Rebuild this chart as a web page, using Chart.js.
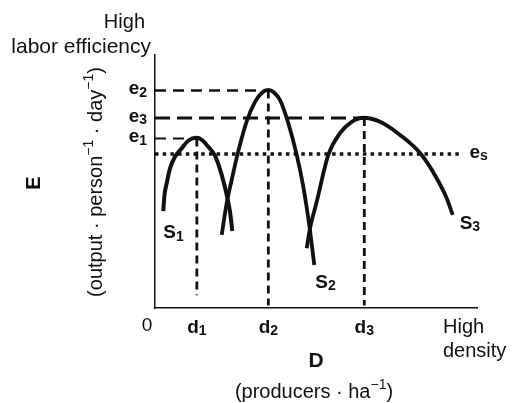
<!DOCTYPE html>
<html>
<head>
<meta charset="utf-8">
<script src="https://cdn.jsdelivr.net/npm/chart.js@4.4.0/dist/chart.umd.min.js"></script>
<style>
  html, body { margin: 0; padding: 0; background: #fff; }
  #chart { display: block; }
</style>
</head>
<body>
<canvas id="chart" width="512" height="403"></canvas>
<script>
// tick labels and where they sit on each axis
const densityTicks = ['1', '2', '3'];
const densityValues = [13, 35.2, 65];
const efficiencyTicks = ['1', '2', '3'];
const efficiencyValues = [67, 86, 75.1];
const subsistenceLevel = 60.9;
const subsistenceEnd = 95.5;

// curves (density, efficiency)
const s1X = [2.58, 2.89, 3.63, 4.66, 6.21, 8.29, 10.5, 12.9, 14.5, 16.55, 18.63, 20.71, 22.27, 23.29, 24.01];
const s1Y = [38.3, 44.0, 49.3, 55.2, 59.8, 63.1, 66.3, 67.3, 66.5, 63.7, 60.2, 52.6, 44.7, 38.1, 30.4];
const s2X = [20.71, 22.27, 23.82, 25.87, 28.48, 31.06, 33.23, 35.19, 36.96, 38.82, 41.4, 44.01, 46.06, 47.83, 49.47];
const s2Y = [28.9, 41.5, 50.6, 62.0, 73.8, 81.5, 85.1, 86.2, 85.2, 82.2, 73.0, 60.5, 47.9, 33.5, 17.0];
const s3X = [47.11, 48.14, 50.22, 53.82, 57.45, 61.09, 64.69, 69.88, 76.09, 82.83, 87.48, 90.59, 92.45];
const s3Y = [23.6, 31.5, 42.0, 60.5, 69.1, 73.6, 75.2, 73.6, 68.4, 60.5, 51.3, 43.4, 36.8];
const curveNames = ['1', '2', '3'];

const FONT = '"Liberation Sans", Arial, sans-serif';

function toPoints(xs, ys) {
	return xs.map((x, i) => ({ x: x, y: ys[i] }));
}

function refLine(points, width, dash) {
	return {
		data: points,
		showLine: true,
		borderColor: '#111',
		borderWidth: width,
		borderDash: dash,
		borderCapStyle: 'butt',
		pointRadius: 0,
		tension: 0
	};
}

function curve(points, color, width) {
	return {
		data: points,
		showLine: true,
		borderColor: color,
		borderWidth: width,
		pointRadius: 0,
		cubicInterpolationMode: 'monotone',
		borderCapStyle: 'butt'
	};
}

// e1, e2, e3 horizontal guides and d1, d2, d3 drops
const hStyles = [[2, [11, 7]], [2.5, [11, 7]], [3.2, [15, 7]]];
const dropEnds = [5, 1, 1];
const datasets = [];
densityValues.forEach((d, i) => {
	const e = efficiencyValues[i];
	datasets.push(refLine([{ x: 0, y: e }, { x: d, y: e }], hStyles[i][0], hStyles[i][1]));
	datasets.push(refLine([{ x: d, y: e }, { x: d, y: dropEnds[i] }], 2.8, [8, 5]));
});
datasets.push(refLine([{ x: 0, y: subsistenceLevel }, { x: subsistenceEnd, y: subsistenceLevel }], 3.5, [3.5, 4.2]));

const s1 = toPoints(s1X, s1Y);
const s2 = toPoints(s2X, s2Y);
const s3 = toPoints(s3X, s3Y);
datasets.push(curve(s1, '#111', 4));
datasets.push(curve(s2, '#111', 3.8));
datasets.push(curve(s2, '#c4c4c4', 1.1));
datasets.push(curve(s3, '#111', 3.8));
datasets.push(curve(s3, '#c4c4c4', 1.1));

// text with sub / superscripts
function drawRich(ctx, parts, x, y, align, size, bold) {
	const fontFor = (m) => (bold ? 'bold ' : '') + (m ? Math.round(size * (m === 'sub' ? 0.74 : 0.68)) : size) + 'px ' + FONT;
	let total = 0;
	parts.forEach(([t, m]) => {
		ctx.font = fontFor(m);
		total += ctx.measureText(t).width;
	});
	let cx = align === 'center' ? x - total / 2 : align === 'right' ? x - total : x;
	ctx.textAlign = 'left';
	ctx.textBaseline = 'alphabetic';
	parts.forEach(([t, m]) => {
		ctx.font = fontFor(m);
		const dy = m === 'sub' ? size * 0.13 : m === 'sup' ? -size * 0.45 : 0;
		ctx.fillText(t, cx, y + dy);
		cx += ctx.measureText(t).width;
	});
}

const labelsPlugin = {
	id: 'labels',
	afterDraw(chart) {
		const ctx = chart.ctx;
		const xs = chart.scales.x;
		const ys = chart.scales.y;
		const area = chart.chartArea;
		ctx.save();
		ctx.fillStyle = '#111';

		// y axis texts
		drawRich(ctx, [['High', '']], area.left - 10, 28, 'right', 20, false);
		drawRich(ctx, [['labor efficiency', '']], area.left - 4, 53, 'right', 21, false);
		efficiencyValues.forEach((e, i) => {
			drawRich(ctx, [['e', ''], [efficiencyTicks[i], 'sub']], area.left - 8, ys.getPixelForValue(e) + 4, 'right', 19, true);
		});
		drawRich(ctx, [['e', ''], ['s', 'sub']], xs.getPixelForValue(subsistenceEnd) + 7, ys.getPixelForValue(subsistenceLevel) + 4, 'left', 19, true);

		ctx.save();
		ctx.translate(40, 183);
		ctx.rotate(-Math.PI / 2);
		drawRich(ctx, [['E', '']], 0, 0, 'center', 20, true);
		ctx.restore();

		ctx.save();
		ctx.translate(102, 182);
		ctx.rotate(-Math.PI / 2);
		drawRich(ctx, [['(output · person', ''], ['\u22121', 'sup'], [' · day', ''], ['\u22121', 'sup'], [')', '']], 0, 0, 'center', 20, false);
		ctx.restore();

		// x axis texts
		const tickY = area.bottom + 25;
		drawRich(ctx, [['0', '']], area.left - 8, tickY - 2, 'center', 19, false);
		densityValues.forEach((d, i) => {
			drawRich(ctx, [['d', ''], [densityTicks[i], 'sub']], xs.getPixelForValue(d), tickY, 'center', 19, true);
		});
		drawRich(ctx, [['High', '']], 443, 333, 'left', 20, false);
		drawRich(ctx, [['density', '']], 443, 357, 'left', 20, false);
		drawRich(ctx, [['D', '']], 316, 367, 'center', 21, true);
		drawRich(ctx, [['(producers · ha', ''], ['\u22121', 'sup'], [')', '']], 314, 398, 'center', 20, false);

		// curve names next to their low ends
		const ends = [s1[0], s2[s2.length - 1], s3[s3.length - 1]];
		const offsets = [[0, 27], [1, 23], [7, 14]];
		ends.forEach((p, i) => {
			const px = xs.getPixelForValue(p.x) + offsets[i][0];
			const py = ys.getPixelForValue(p.y) + offsets[i][1];
			drawRich(ctx, [['S', ''], [curveNames[i], 'sub']], px, py, 'left', 19, true);
		});
		ctx.restore();
	}
};

new Chart(document.getElementById('chart'), {
	type: 'scatter',
	data: { datasets: datasets },
	options: {
		responsive: false,
		animation: false,
		layout: { padding: { left: 155, top: 55, right: 35, bottom: 95 } },
		plugins: { legend: { display: false }, tooltip: { enabled: false } },
		scales: {
			x: {
				type: 'linear', min: 0, max: 100,
				ticks: { display: false },
				grid: { display: false, drawTicks: false },
				border: { display: true, color: '#111', width: 1.5 }
			},
			y: {
				type: 'linear', min: 0, max: 100,
				ticks: { display: false },
				grid: { display: false, drawTicks: false },
				border: { display: true, color: '#111', width: 1.5 }
			}
		}
	},
	plugins: [labelsPlugin]
});
</script>
</body>
</html>
